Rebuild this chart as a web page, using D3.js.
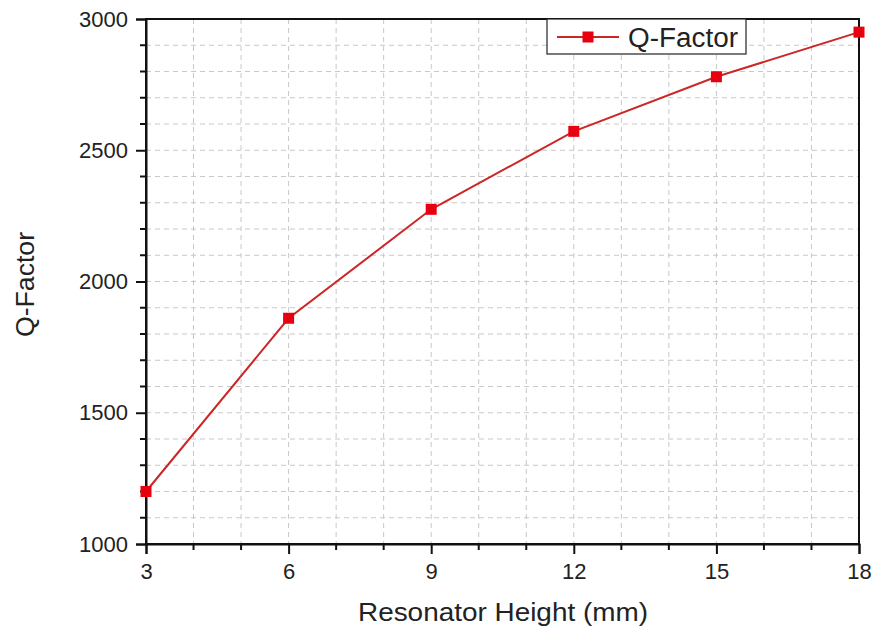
<!DOCTYPE html>
<html><head><meta charset="utf-8">
<script src="https://cdn.jsdelivr.net/npm/d3@7"></script>
<style>body{margin:0;background:#fff;} text{font-family:Arial,"Liberation Sans",sans-serif;}</style>
</head><body>
<svg id="c" width="873" height="631"></svg>
<script>
const heights = [3, 6, 9, 12, 15, 18];
const qFactor = [1200, 1860, 2275, 2572, 2780, 2950];
const xTicks = [3, 6, 9, 12, 15, 18];
const yTicks = [1000, 1500, 2000, 2500, 3000];
const seriesName = "Q-Factor";

const svg = d3.select("#c");
const L = 146, R = 859, T = 19, B = 544;
const x = d3.scaleLinear().domain([3, 18]).range([L, R]);
const y = d3.scaleLinear().domain([1000, 3000]).range([B, T]);

const xMinor = d3.range(3, 18.01, 1);
const yMinor = d3.range(1000, 3000.1, 100);

// grid
const g = svg.append("g");
g.selectAll(".gx").data(xMinor.filter(v => v > 3 && v < 18)).enter().append("line")
  .attr("x1", d => x(d)).attr("x2", d => x(d)).attr("y1", T).attr("y2", B)
  .attr("stroke", "#c8c8c8").attr("stroke-width", 1).attr("stroke-dasharray", "5,4");
g.selectAll(".gy").data(yMinor.filter(v => v > 1000 && v < 3000)).enter().append("line")
  .attr("y1", d => y(d)).attr("y2", d => y(d)).attr("x1", L).attr("x2", R)
  .attr("stroke", "#c8c8c8").attr("stroke-width", 1).attr("stroke-dasharray", "5,4");

// frame
svg.append("rect").attr("x", L).attr("y", T).attr("width", R - L).attr("height", B - T)
  .attr("fill", "none").attr("stroke", "#111").attr("stroke-width", 2);

// axes
const xAxis = d3.axisBottom(x).tickValues(xTicks).tickSize(10).tickPadding(9).tickFormat(d3.format("d"));
const yAxis = d3.axisLeft(y).tickValues(yTicks).tickSize(10).tickPadding(8).tickFormat(d3.format("d"));
const xa = svg.append("g").attr("transform", `translate(0,${B})`).call(xAxis);
const ya = svg.append("g").attr("transform", `translate(${L},0)`).call(yAxis);
[xa, ya].forEach(a => {
  a.select(".domain").attr("stroke", "#111").attr("stroke-width", 2);
  a.selectAll(".tick line").attr("stroke", "#111").attr("stroke-width", 2);
  a.selectAll(".tick text").attr("font-size", 22).attr("fill", "#222")
    .attr("font-family", "Arial, 'Liberation Sans', sans-serif");
});
// minor ticks
svg.append("g").selectAll("line").data(xMinor.filter(v => !xTicks.includes(v))).enter().append("line")
  .attr("x1", d => x(d)).attr("x2", d => x(d)).attr("y1", B).attr("y2", B + 6)
  .attr("stroke", "#111").attr("stroke-width", 2);
svg.append("g").selectAll("line").data(yMinor.filter(v => !yTicks.includes(v))).enter().append("line")
  .attr("y1", d => y(d)).attr("y2", d => y(d)).attr("x1", L).attr("x2", L - 6)
  .attr("stroke", "#111").attr("stroke-width", 2);

// titles
svg.append("text").attr("x", 358).attr("y", 621)
  .attr("font-size", 25).attr("fill", "#222")
  .attr("textLength", 290).attr("lengthAdjust", "spacingAndGlyphs").text("Resonator Height (mm)");
svg.append("text").attr("transform", `translate(34,337) rotate(-90)`)
  .attr("font-size", 25).attr("fill", "#222")
  .attr("textLength", 105).attr("lengthAdjust", "spacingAndGlyphs").text(seriesName);

// line
const data = heights.map((h, i) => ({ h, q: qFactor[i] }));
svg.append("path").datum(data)
  .attr("d", d3.line().x(d => x(d.h)).y(d => y(d.q)))
  .attr("fill", "none").attr("stroke", "#cc2626").attr("stroke-width", 2);
const ms = 11;
svg.append("g").selectAll("rect").data(data).enter().append("rect")
  .attr("x", d => x(d.h) - ms / 2).attr("y", d => y(d.q) - ms / 2)
  .attr("width", ms).attr("height", ms).attr("fill", "#e80010");

// legend
const lg = svg.append("g");
lg.append("rect").attr("x", 547).attr("y", 19).attr("width", 199).attr("height", 35)
  .attr("fill", "#fff").attr("stroke", "#222").attr("stroke-width", 1.2);
lg.append("line").attr("x1", 557).attr("x2", 619).attr("y1", 37).attr("y2", 37)
  .attr("stroke", "#cc2626").attr("stroke-width", 2);
lg.append("rect").attr("x", 588 - ms / 2).attr("y", 37 - ms / 2).attr("width", ms).attr("height", ms)
  .attr("fill", "#e80010");
lg.append("text").attr("x", 628).attr("y", 47).attr("font-size", 27).attr("fill", "#222")
  .attr("textLength", 110).attr("lengthAdjust", "spacingAndGlyphs").text(seriesName);
</script>
</body></html>
